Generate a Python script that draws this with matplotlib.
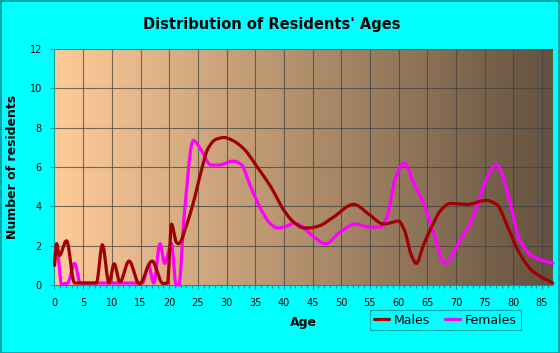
import matplotlib

matplotlib.use("Agg")
import matplotlib.pyplot as plt  # noqa: E402
import numpy as np  # noqa: E402

# values (age, number of residents)
male_age = [0, 0.4, 0.85, 2.1, 3.5, 5, 7.3, 8.35, 9.5, 10.4, 11.4, 13, 14.8,
            17, 18.9, 19.7, 20.4, 21.2, 21.6, 23.2, 24.4, 25.5, 26.7, 28.1,
            29.6, 31.05, 33.1, 35.1, 37.7, 40, 41.7, 43.5, 44.4, 46.1, 48.4,
            52.2, 54.8, 57.4, 60, 61, 62.3, 63.1, 64.3, 65.5, 67.5, 69,
            71.9, 75.3, 77.1, 79.1, 81.1, 83.4, 86.9]
male_val = [1.0, 2.1, 1.5, 2.25, 0.1, 0.1, 0.1, 2.05, 0.1, 1.08, 0.15, 1.22,
            0.05, 1.22, 0.08, 0.1, 3.1, 2.2, 2.1, 3.2, 4.4, 5.7, 6.9, 7.4,
            7.5, 7.35, 6.9, 6.1, 5.0, 3.8, 3.2, 2.9, 2.9, 3.0, 3.4,
            4.1, 3.6, 3.1, 3.25, 2.8, 1.45, 1.1, 2.0, 2.8, 3.85, 4.15,
            4.1, 4.3, 4.1, 2.9, 1.6, 0.7, 0.1]

female_age = [0, 0.3, 0.7, 1.2, 2.3, 3.5, 4.5, 8, 12, 15.3, 16.4, 17.3,
              18.4, 19.2, 20.4, 21.2, 21.7, 22.6, 24.2, 25.5, 27.3, 28.7,
              31.05, 32.5, 34.2, 36, 37.7, 38.9, 40.6, 41.7, 42.6, 45, 47.3,
              49.6, 52.5, 54.8, 56.8, 58, 59.4, 61, 62.6, 64.3, 66.1, 68.1,
              70.1, 73, 75.3, 77.1, 78.8, 81.1, 83.4, 86.9]
female_val = [1.0, 2.0, 1.3, 0.05, 0.1, 1.1, 0.1, 0.1, 0.1, 0.1, 1.0, 0.1,
              2.1, 1.1, 2.1, 0.0, 0.0, 3.5, 7.35, 6.9, 6.1, 6.1,
              6.3, 6.15, 5.0, 3.85, 3.1, 2.9, 3.0, 3.15, 3.08, 2.5, 2.1,
              2.65, 3.1, 2.95, 2.95, 3.5, 5.4, 6.2, 5.2, 4.2, 2.65, 1.1,
              1.95, 3.5, 5.4, 6.1, 4.9, 2.3, 1.45, 1.1]

x_ticks = list(range(0, 90, 5))
y_ticks = list(range(0, 14, 2))

CYAN = "#00ffff"
TEAL = "#009a9a"


def smooth(xs, ys, n=12):
    """Monotone cubic (PCHIP-style) curve through the points, for drawing only."""
    x = np.asarray(xs, float)
    y = np.asarray(ys, float)
    h = np.diff(x)
    d = np.diff(y) / h
    m = np.zeros_like(y)
    for i in range(1, len(y) - 1):
        if d[i - 1] * d[i] > 0:
            w1 = 2 * h[i] + h[i - 1]
            w2 = h[i] + 2 * h[i - 1]
            m[i] = (w1 + w2) / (w1 / d[i - 1] + w2 / d[i])
    m[0], m[-1] = d[0], d[-1]
    px, py = [], []
    for i in range(len(h)):
        t = np.linspace(0, 1, n, endpoint=False)
        h00 = 2 * t**3 - 3 * t**2 + 1
        h10 = t**3 - 2 * t**2 + t
        h01 = -2 * t**3 + 3 * t**2
        h11 = t**3 - t**2
        px.append(x[i] + t * h[i])
        py.append(h00 * y[i] + h10 * h[i] * m[i] + h01 * y[i + 1] + h11 * h[i] * m[i + 1])
    px.append([x[-1]])
    py.append([y[-1]])
    return np.concatenate(px), np.concatenate(py)


fig = plt.figure(figsize=(5.6, 3.53), dpi=100, facecolor=CYAN)
fig.patches.append(plt.Rectangle((0.001, 0.001), 0.997, 0.996, transform=fig.transFigure,
                                 fill=False, edgecolor=TEAL, linewidth=1.2))
ax = fig.add_axes([0.0973, 0.1926, 0.890, 0.6686])
ax.set_xlim(0, 86.9)
ax.set_ylim(0, 12)

# left-to-right gradient background
left = np.array([255, 204, 153]) / 255
right = np.array([99, 82, 64]) / 255
t = np.linspace(0, 1, 256)[None, :, None]
grad = left + (right - left) * t
ax.imshow(grad, extent=(0, 86.9, 0, 12), aspect="auto", zorder=0)

for x in x_ticks[1:]:
    ax.axvline(x, color="#404040", linewidth=0.8, alpha=0.7, zorder=1)
for y in y_ticks[1:]:
    ax.axhline(y, color="#404040", linewidth=0.8, alpha=0.7, zorder=1)

fx, fy = smooth(female_age, female_val)
mx, my = smooth(male_age, male_val)
ax.plot(fx, fy, color="#ff00ff", linewidth=2.3,
        solid_joinstyle="round", solid_capstyle="round", label="Females", zorder=3,
        clip_on=False)
ax.plot(mx, my, color="#a00000", linewidth=2.3,
        solid_joinstyle="round", solid_capstyle="round", label="Males", zorder=4,
        clip_on=False)

ax.set_xticks(x_ticks)
ax.set_xticks(range(0, 87), minor=True)
ax.set_yticks(y_ticks)
ax.tick_params(axis="both", labelsize=7, colors="#000000", pad=6,
               length=3, width=0.8, color=TEAL)
ax.tick_params(axis="x", which="minor", length=2.5, width=0.8, color=TEAL)
for s in ax.spines.values():
    s.set_visible(False)
ax.spines["left"].set_visible(True)
ax.spines["bottom"].set_visible(True)
ax.spines["left"].set_color(TEAL)
ax.spines["bottom"].set_color(TEAL)

fig.text(0.485, 0.932, "Distribution of Residents' Ages", ha="center", va="center",
         fontsize=10.5, fontweight="bold")
ax.set_xlabel("Age", fontsize=9, fontweight="bold", labelpad=6)
ax.set_ylabel("Number of residents", fontsize=9, fontweight="bold", labelpad=8)

handles, labels = ax.get_legend_handles_labels()
leg = fig.legend(handles[::-1], labels[::-1], loc="center", ncol=2,
                 bbox_to_anchor=(0.795, 0.093), frameon=True, fontsize=9,
                 handlelength=1.2, handletextpad=0.4, columnspacing=1.2,
                 borderpad=0.3, fancybox=False)
leg.get_frame().set_facecolor(CYAN)
leg.get_frame().set_edgecolor(TEAL)
leg.get_frame().set_linewidth(0.8)

fig.savefig("out.png", dpi=100, facecolor=CYAN)
